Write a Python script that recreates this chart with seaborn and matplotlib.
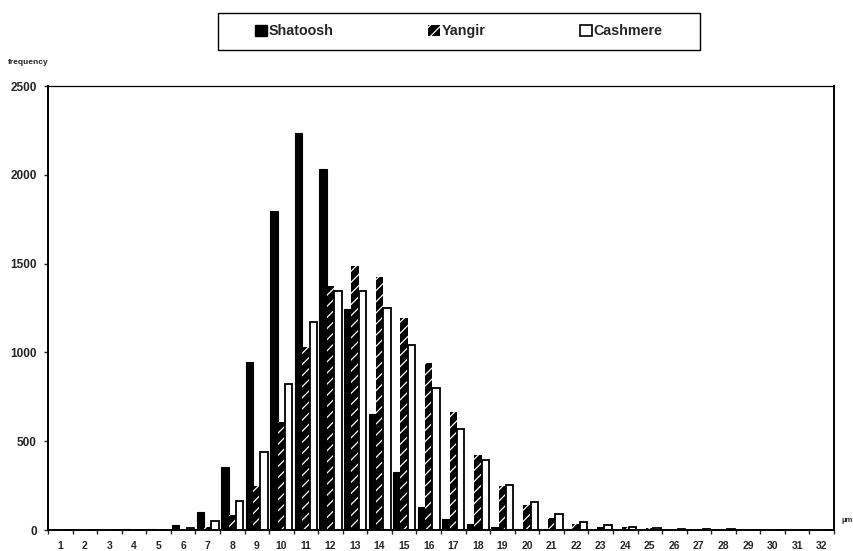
import numpy as np
import pandas as pd
import matplotlib
matplotlib.use("Agg")
import matplotlib.pyplot as plt
import matplotlib.ticker as ticker
from matplotlib.patches import Patch, Rectangle
import seaborn as sns

# ---- data ----
diameters = list(range(1, 33))
shatoosh = [0, 0, 0, 5, 3, 30, 103, 356, 946, 1797, 2237, 2030, 1245, 653, 328, 128,
            63, 34, 15, 8, 5, 3, 2, 1, 0, 0, 0, 0, 0, 0, 0, 0]
yangir = [0, 0, 0, 0, 0, 5, 15, 85, 248, 606, 1029, 1373, 1486, 1424, 1193, 939,
          666, 423, 246, 141, 70, 36, 19, 15, 9, 4, 3, 2, 2, 1, 1, 1]
cashmere = [0, 0, 0, 0, 2, 10, 52, 164, 442, 822, 1170, 1345, 1345, 1249, 1044, 798,
            568, 393, 252, 158, 88, 47, 30, 15, 9, 5, 3, 3, 2, 2, 1, 1]
fibres = ["Shatoosh", "Yangir", "Cashmere"]
y_ticks = [0, 500, 1000, 1500, 2000, 2500]

df = pd.DataFrame({
    "diameter": diameters * 3,
    "fibre": np.repeat(fibres, len(diameters)),
    "frequency": shatoosh + yangir + cashmere,
})

sns.set_style("white")
plt.rcParams["font.family"] = ["Liberation Sans", "DejaVu Sans"]
plt.rcParams["font.weight"] = "bold"
plt.rcParams["hatch.linewidth"] = 0.9

fig = plt.figure(figsize=(8.54, 5.51), dpi=100)
ax = fig.add_axes([0.0562, 0.0381, 0.9204, 0.8058])

sns.barplot(data=df, x="diameter", y="frequency", hue="fibre", hue_order=fibres,
            palette=["black", "black", "white"], width=0.9, gap=0, saturation=1,
            legend=False, ax=ax)

# style each series
for patch in ax.containers[0]:
    patch.set_edgecolor("black")
    patch.set_linewidth(0.8)
for patch in ax.containers[1]:
    patch.set_edgecolor("white")
    patch.set_linewidth(0)
    patch.set_hatch("///")
for patch in ax.containers[2]:
    patch.set_facecolor("white")
    patch.set_edgecolor("black")
    patch.set_linewidth(1.3)

ax.set_ylim(0, 2500)
ax.set_xlim(-0.5, len(diameters) - 0.5)
ax.set_yticks(y_ticks)
ax.set_xlabel("")
ax.set_ylabel("")
ax.tick_params(axis="x", which="major", length=0, pad=8, labelsize=7.5)
ax.xaxis.set_minor_locator(ticker.FixedLocator(np.arange(-0.5, len(diameters), 1)))
ax.tick_params(axis="x", which="minor", length=3, width=1, direction="out", bottom=True)
ax.tick_params(axis="y", length=3, width=1, direction="out", left=True, labelsize=8.5, pad=5)
for lab in ax.get_xticklabels() + ax.get_yticklabels():
    lab.set_fontweight("bold")
for side in ["left", "bottom", "right"]:
    ax.spines[side].set_linewidth(1.4)
    ax.spines[side].set_color("black")
ax.spines["top"].set_linewidth(0.9)
ax.spines["top"].set_color("black")

fig.text(0.009, 0.887, "frequency", fontsize=6, fontweight="bold", ha="left", va="center")
fig.text(0.985, 0.055, "µm", fontsize=5.5, fontweight="bold", ha="left", va="center")

# legend box drawn in figure coordinates, entries centred inside it
fig.patches.append(Rectangle((218 / 854, 1 - 50 / 551), 482 / 854, 37 / 551,
                             transform=fig.transFigure, fill=False,
                             edgecolor="black", linewidth=1.0))
handles = [
    Patch(facecolor="black", edgecolor="black", label="Shatoosh"),
    Patch(facecolor="black", edgecolor="white", hatch="///", linewidth=0, label="Yangir"),
    Patch(facecolor="white", edgecolor="black", linewidth=1.2, label="Cashmere"),
]
leg = fig.legend(handles=handles, loc="center", ncol=3,
                 bbox_to_anchor=(459 / 854, 1 - 31 / 551),
                 frameon=False, handlelength=0.8, handleheight=0.8,
                 handletextpad=0.15, columnspacing=6.6,
                 prop={"size": 10.3, "weight": "bold"})
for t in leg.get_texts():
    t.set_fontweight("bold")

fig.savefig("out.png", dpi=100)
